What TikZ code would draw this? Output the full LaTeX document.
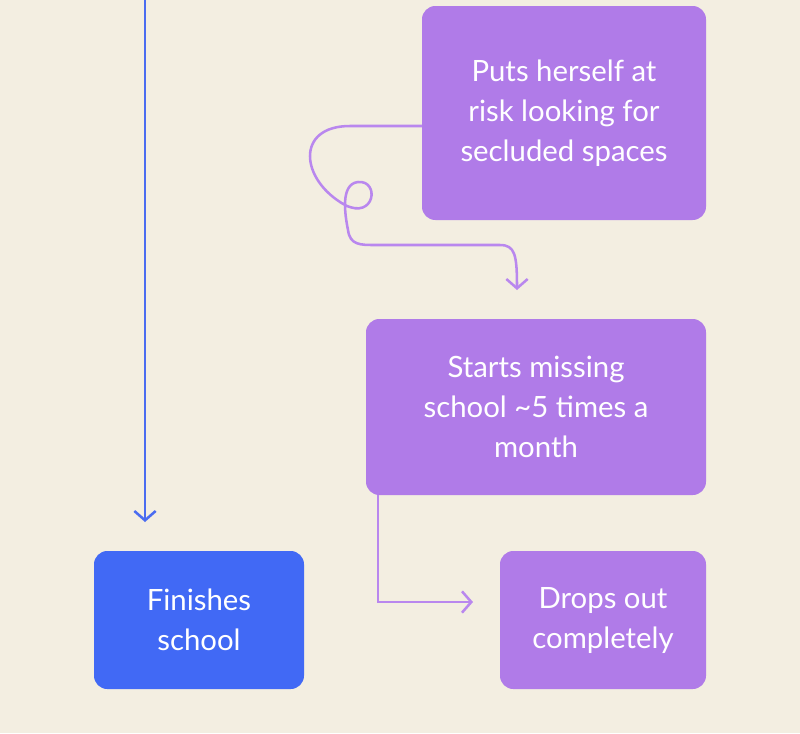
\documentclass[tikz,border=0pt]{standalone}
\usepackage{fontspec}
\setmainfont{Lato}
\usetikzlibrary{arrows.meta}
\definecolor{bg}{HTML}{F3EEE1}
\definecolor{purp}{HTML}{B07BE8}
\definecolor{purpl}{HTML}{B987EE}
\definecolor{blu}{HTML}{4169F5}
\definecolor{blul}{HTML}{4A6CF0}
\tikzset{
 box/.style={rounded corners=10pt,text=white,align=center,font=\fontsize{22}{30}\selectfont,inner sep=0pt},
 pbox/.style={box,fill=purp},
 bbox/.style={box,fill=blu},
 conn/.style={line width=1.9pt,-{Straight Barb[length=7pt,width=16pt,line width=1.9pt]}}
}
\begin{document}
\begin{tikzpicture}[x=0.75pt,y=-0.75pt]
\fill[bg] (0,0) rectangle (800,733);
\useasboundingbox (0,0) rectangle (800,733);
\node[pbox,minimum width=213pt,minimum height=160.5pt] (a) at (564,113) {Puts herself at\\risk looking for\\secluded spaces};
\node[pbox,minimum width=255pt,minimum height=132pt] (b) at (536,407) {Starts missing\\school \textasciitilde5 times a\\month};
\node[bbox,minimum width=157.5pt,minimum height=103.5pt] (c) at (199,620) {Finishes\\school};
\node[pbox,minimum width=154.5pt,minimum height=103.5pt] (d) at (603,620) {Drops out\\completely};
\coordinate (top) at (145,0);
\coordinate (ae) at (422,126);
\coordinate (be) at (378,495);
\draw[conn,blul] (top) -- (145,522);
\draw[conn,purpl] (ae) -- (350,126) .. controls (295,126) and (300,180) .. (345,205) .. controls (375,220) and (380,180) .. (358,182) .. controls (340,184) and (345,215) .. (348,230) .. controls (350,245) and (360,245) .. (375,245) -- (500,245) .. controls (515,245) and (517,255) .. (517,290);
\draw[conn,purpl] (be) -- (378,602) -- (473,602);
\end{tikzpicture}
\end{document}
